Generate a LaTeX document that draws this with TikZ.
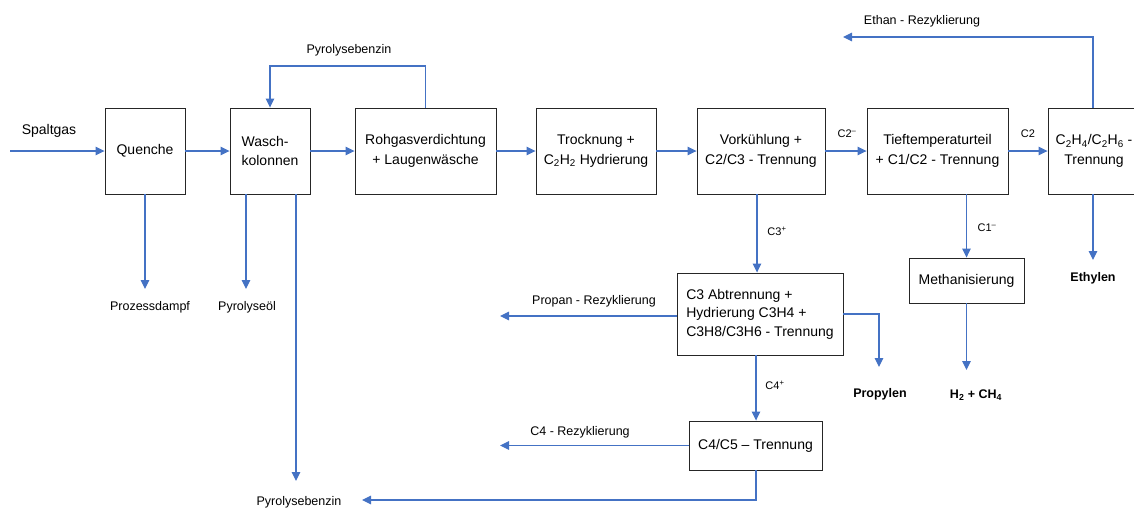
\documentclass[tikz,border=0pt]{standalone}
\usepackage{fontspec}
\setmainfont{Liberation Sans}
\usetikzlibrary{arrows.meta}
\definecolor{flowblue}{RGB}{68,114,196}
\begin{document}
\begin{tikzpicture}[x=1pt,y=-1pt,
  box/.style={draw=black!85, line width=0.9pt, fill=white, inner sep=0pt,
    align=center, font=\fontsize{14}{19.5}\selectfont},
  flow/.style={draw=flowblue, line width=1.1pt, -{Triangle[length=9pt,width=8.5pt]}},
  lbl/.style={font=\fontsize{12.5}{15}\selectfont, inner sep=0pt},
  blbl/.style={font=\fontsize{12.5}{15}\selectfont\bfseries, inner sep=0pt},
  tag/.style={font=\fontsize{11}{13}\selectfont, inner sep=0pt}]
\useasboundingbox (0,0) rectangle (1134,509);

% process units
\node[box, minimum width=80pt, minimum height=86pt] (quench) at (145,151) {Quenche};
\node[box, align=left, minimum width=80pt, minimum height=86pt] (wasch) at (270,151) {Wasch-\\kolonnen};
\node[box, minimum width=141pt, minimum height=86pt] (roh) at (425.5,151) {Rohgasverdichtung\\+ Laugenwäsche};
\node[box, minimum width=120pt, minimum height=86pt] (trock) at (596,151) {Trocknung +\\C\textsubscript{2}H\textsubscript{2} Hydrierung};
\node[box, minimum width=128pt, minimum height=86pt] (vork) at (761,151) {Vorkühlung +\\C2/C3 - Trennung};
\node[box, minimum width=141pt, minimum height=86pt] (tief) at (937.5,151) {Tieftemperaturteil\\+ C1/C2 - Trennung};
\node[box, minimum width=92pt, minimum height=86pt] (sep) at (1094,151) {C\textsubscript{2}H\textsubscript{4}/C\textsubscript{2}H\textsubscript{6} -\\Trennung};
\node[box, align=left, minimum width=166pt, minimum height=82pt, font=\fontsize{14}{18.5}\selectfont] (c3box) at (760,314)
  {C3 Abtrennung +\\Hydrierung C3H4 +\\C3H8/C3H6 - Trennung};
\node[box, minimum width=115pt, minimum height=45pt] (meth) at (966.5,280.5) {Methanisierung};
\node[box, minimum width=133pt, minimum height=49pt] (c45) at (755.5,445.5) {C4/C5 – Trennung};

% free ends of the streams
\coordinate (feed) at (10,151);
\coordinate (loop) at (350,66);
\coordinate (steam) at (145,289);
\coordinate (oil) at (246,289);
\coordinate (gas) at (296,481);
\coordinate (c3x) at (757,0);
\coordinate (ethy) at (1093,260);
\coordinate (ethan) at (843,37);
\coordinate (h2) at (966.5,370);
\coordinate (prop) at (500,316);
\coordinate (propy) at (879,367);
\coordinate (c4x) at (756,0);
\coordinate (c4rec) at (500,445.5);
\coordinate (benz) at (362,500);

% main gas line
\draw[flow] (feed) -- (quench.west);
\draw[flow] (quench.east) -- (wasch.west);
\draw[flow] (wasch.east) -- (roh.west);
\draw[flow] (roh.east) -- (trock.west);
\draw[flow] (trock.east) -- (vork.west);
\draw[flow] (vork.east) -- (tief.west);
\draw[flow] (tief.east) -- (sep.west);

% recycles and side streams
\draw[flow] (roh.north) |- (loop) -| (wasch.north);
\draw[flow] (quench.south) -- (steam);
\draw[flow] (oil |- wasch.south) -- (oil);
\draw[flow] (gas |- wasch.south) -- (gas);
\draw[flow] (c3x |- vork.south) -- (c3x |- c3box.north);
\draw[flow] (meth.north |- tief.south) -- (meth.north);
\draw[flow] (ethy |- sep.south) -- (ethy);
\draw[flow] (ethy |- sep.north) |- (ethan);
\draw[flow] (meth.south) -- (h2);
\draw[flow] (c3box.west |- prop) -- (prop);
\draw[flow] (c3box.east) -| (propy);
\draw[flow] (c4x |- c3box.south) -- (c4x |- c45.north);
\draw[flow] (c45.west) -- (c4rec);
\draw[flow] (c4x |- c45.south) |- (benz);

% stream labels
\node[inner sep=0pt, font=\fontsize{14}{16}\selectfont] (lspalt) at (49,131) {Spaltgas};
\node[lbl] (lpyr1) at (349,50) {Pyrolysebenzin};
\node[lbl] (lethan) at (922,21) {Ethan - Rezyklierung};
\node[lbl] (lsteam) at (150,307) {Prozessdampf};
\node[lbl] (loil) at (247,307) {Pyrolyseöl};
\node[lbl] (lpyr2) at (299,502) {Pyrolysebenzin};
\node[lbl] (lprop) at (594,301) {Propan - Rezyklierung};
\node[lbl] (lc4) at (580,432) {C4 - Rezyklierung};
\node[blbl] (lpropy) at (880,394) {Propylen};
\node[blbl] (lh2) at (976,395) {H\textsubscript{2} + CH\textsubscript{4}};
\node[blbl] (lethy) at (1093,278) {Ethylen};
\node[tag] (tc2m) at (847,134) {C2\textsuperscript{–}};
\node[tag] (tc2) at (1028,134) {C2};
\node[tag] (tc3) at (777,231) {C3\textsuperscript{+}};
\node[tag] (tc1) at (987,228) {C1\textsuperscript{–}};
\node[tag] (tc4) at (775,385) {C4\textsuperscript{+}};
\end{tikzpicture}
\end{document}
